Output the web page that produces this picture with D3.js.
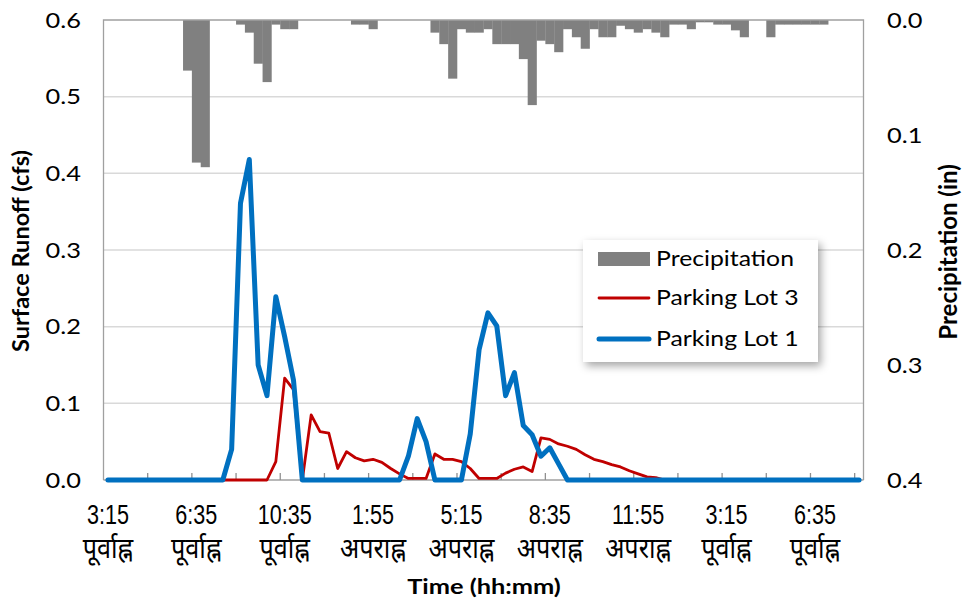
<!DOCTYPE html>
<html>
<head>
<meta charset="utf-8">
<script src="https://cdn.jsdelivr.net/npm/d3@7"></script>
<style>
  html, body { margin: 0; padding: 0; background: #fff; }
  svg { display: block; }
  text { font-family: Lato, "Noto Sans", "DejaVu Sans", sans-serif; fill: #000; }
</style>
</head>
<body>
<svg id="chart" width="962" height="601"></svg>
<script>
// Rainfall (in, per 20-min step) and surface runoff (cfs) for two parking lots
const precipitation = [
  0, 0, 0, 0, 0, 0, 0, 0, 0, 0.044,
  0.124, 0.128, 0, 0, 0, 0.004, 0.011, 0.038, 0.054, 0.004,
  0.008, 0.008, 0, 0, 0, 0, 0, 0, 0.004, 0.004,
  0.008, 0, 0, 0, 0, 0, 0, 0.011, 0.021, 0.051,
  0.008, 0.011, 0.011, 0.008, 0.021, 0.021, 0.021, 0.034, 0.074, 0.018,
  0.021, 0.028, 0.008, 0.015, 0.025, 0.008, 0.015, 0.015, 0.005, 0.008,
  0.011, 0.008, 0.011, 0.015, 0.004, 0.004, 0.008, 0.002, 0.002, 0.004,
  0.004, 0.009, 0.015, 0, 0, 0.015, 0.004, 0.004, 0.004, 0.004,
  0.004, 0.004, 0, 0, 0, 0
];
const parkingLot3 = [
  0, 0, 0, 0, 0, 0, 0, 0, 0, 0,
  0, 0, 0, 0, 0, 0, 0, 0, 0, 0.024,
  0.133, 0.118, 0, 0.085, 0.063, 0.061, 0.015, 0.037, 0.029, 0.025,
  0.027, 0.023, 0.015, 0.008, 0.002, 0.002, 0.002, 0.034, 0.027, 0.027,
  0.024, 0.015, 0.002, 0.002, 0.002, 0.009, 0.014, 0.017, 0.011, 0.055,
  0.053, 0.047, 0.044, 0.040, 0.033, 0.027, 0.024, 0.020, 0.017, 0.012,
  0.008, 0.004, 0.003, 0, 0, 0, 0, 0, 0, 0,
  0, 0, 0, 0, 0, 0, 0, 0, 0, 0,
  0, 0, 0, 0, 0, 0
];
const parkingLot1 = [
  0, 0, 0, 0, 0, 0, 0, 0, 0, 0,
  0, 0, 0, 0, 0.040, 0.361, 0.418, 0.150, 0.110, 0.239,
  0.187, 0.130, 0, 0, 0, 0, 0, 0, 0, 0,
  0, 0, 0, 0, 0.031, 0.080, 0.050, 0, 0, 0,
  0, 0.060, 0.170, 0.218, 0.201, 0.110, 0.140, 0.071, 0.059, 0.031,
  0.042, 0.021, 0, 0, 0, 0, 0, 0, 0, 0,
  0, 0, 0, 0, 0, 0, 0, 0, 0, 0,
  0, 0, 0, 0, 0, 0, 0, 0, 0, 0,
  0, 0, 0, 0, 0, 0
];
// Labels shown on every 10th time step
const tickTimes = ["3:15", "6:35", "10:35", "1:55", "5:15", "8:35", "11:55", "3:15", "6:35"];
const tickPeriods = ["पूर्वाह्न", "पूर्वाह्न", "पूर्वाह्न", "अपराह्न", "अपराह्न", "अपराह्न", "अपराह्न", "पूर्वाह्न", "पूर्वाह्न"];
const runoffTicks = [0, 0.1, 0.2, 0.3, 0.4, 0.5, 0.6];
const precipTicks = [0, 0.1, 0.2, 0.3, 0.4];

const svg = d3.select("#chart");
const plotLeft = 103.5, plotRight = 863.5, plotTop = 20, plotBottom = 480;
const wide = 1.18; // horizontal stretch of the text glyphs

const steps = d3.range(precipitation.length);
const x = d3.scaleBand().domain(steps).range([plotLeft, plotRight]).padding(0);
const cx = i => x(i) + x.bandwidth() / 2;
const yRun = d3.scaleLinear().domain([0, 0.6]).range([plotBottom, plotTop]);
const yPrec = d3.scaleLinear().domain([0, 0.4]).range([plotTop, plotBottom]);

// horizontal gridlines from the runoff axis
svg.append("g")
  .selectAll("line")
  .data(runoffTicks.filter(t => t > 0 && t < 0.6))
  .join("line")
  .attr("x1", plotLeft).attr("x2", plotRight)
  .attr("y1", d => yRun(d)).attr("y2", d => yRun(d))
  .attr("stroke", "#d9d9d9").attr("stroke-width", 1.5);

// precipitation bars hang down from the top edge
svg.append("g")
  .selectAll("rect")
  .data(precipitation.map((v, i) => ({ v, i })).filter(d => d.v > 0))
  .join("rect")
  .attr("x", d => x(d.i))
  .attr("width", x.bandwidth() + 0.3)
  .attr("y", yPrec(0))
  .attr("height", d => yPrec(d.v) - yPrec(0))
  .attr("fill", "#808080");

// plot frame
svg.append("path")
  .attr("d", `M${plotLeft},${plotBottom}V${plotTop}H${plotRight}V${plotBottom}`)
  .attr("fill", "none").attr("stroke", "#a0a0a0").attr("stroke-width", 1.3);
svg.append("line")
  .attr("x1", plotLeft).attr("x2", plotRight).attr("y1", plotBottom).attr("y2", plotBottom)
  .attr("stroke", "#a0a0a0").attr("stroke-width", 1.3);

// x tick marks every 5 steps, on the step boundaries
svg.append("g")
  .selectAll("line")
  .data(d3.range(5, precipitation.length, 5))
  .join("line")
  .attr("x1", d => x(d)).attr("x2", d => x(d))
  .attr("y1", plotBottom).attr("y2", plotBottom - 7)
  .attr("stroke", "#909090").attr("stroke-width", 1.3);

// runoff lines
const line = d3.line().x((d, i) => cx(i)).y(d => yRun(d)).curve(d3.curveLinear);
svg.append("path").datum(parkingLot3)
  .attr("d", line).attr("fill", "none")
  .attr("stroke", "#c00000").attr("stroke-width", 2.8)
  .attr("stroke-linejoin", "round").attr("stroke-linecap", "round");
svg.append("path").datum(parkingLot1)
  .attr("d", line).attr("fill", "none")
  .attr("stroke", "#0070c0").attr("stroke-width", 5)
  .attr("stroke-linejoin", "round").attr("stroke-linecap", "round");

// left axis labels
svg.append("g")
  .selectAll("text")
  .data(runoffTicks)
  .join("text")
  .attr("transform", d => `translate(81,${yRun(d)}) scale(${wide},1)`)
  .attr("dy", "0.35em").attr("text-anchor", "end")
  .attr("font-size", 21.5)
  .text(d => d.toFixed(1));

// right axis labels
svg.append("g")
  .selectAll("text")
  .data(precipTicks)
  .join("text")
  .attr("transform", d => `translate(887,${yPrec(d)}) scale(${wide},1)`)
  .attr("dy", "0.35em").attr("text-anchor", "start")
  .attr("font-size", 21.5)
  .text(d => d.toFixed(1));

// x labels: time over period
const xl = svg.append("g")
  .selectAll("g")
  .data(tickTimes.map((t, k) => ({ t, p: tickPeriods[k], i: k * 10 })))
  .join("g")
  .attr("transform", d => `translate(${cx(d.i)},0)`);
xl.append("text")
  .attr("transform", "translate(0,524) scale(0.8,1)")
  .attr("text-anchor", "middle")
  .attr("font-size", 27)
  .style("font-family", '"Liberation Sans", Arial, sans-serif')
  .text(d => d.t);
xl.append("text")
  .attr("transform", "translate(0,558) scale(0.9,1)")
  .attr("text-anchor", "middle")
  .attr("font-size", 28)
  .style("font-family", '"Liberation Sans", "Noto Sans", sans-serif')
  .text(d => d.p);

// axis titles
svg.append("text")
  .attr("transform", `translate(484,594) scale(${wide},1)`)
  .attr("text-anchor", "middle")
  .attr("font-size", 21.5).attr("font-weight", "bold")
  .text("Time (hh:mm)");
svg.append("text")
  .attr("transform", "translate(29,251) rotate(-90)")
  .attr("text-anchor", "middle")
  .attr("font-size", 23.5).attr("font-weight", "bold")
  .text("Surface Runoff (cfs)");
svg.append("text")
  .attr("transform", "translate(957,252) rotate(-90)")
  .attr("text-anchor", "middle")
  .attr("font-size", 24).attr("font-weight", "bold")
  .text("Precipitation (in)");

// legend
const defs = svg.append("defs");
const f = defs.append("filter").attr("id", "shadow")
  .attr("x", "-10%").attr("y", "-10%").attr("width", "130%").attr("height", "140%");
f.append("feDropShadow").attr("dx", 3).attr("dy", 4).attr("stdDeviation", 4)
  .attr("flood-color", "#000").attr("flood-opacity", 0.35);

const lg = svg.append("g");
lg.append("rect")
  .attr("x", 583).attr("y", 240).attr("width", 235).attr("height", 122)
  .attr("fill", "#fff").attr("filter", "url(#shadow)");
const legendItems = [
  { name: "Precipitation", kind: "bar", color: "#808080" },
  { name: "Parking Lot 3", kind: "line", color: "#c00000", w: 2.8 },
  { name: "Parking Lot 1", kind: "line", color: "#0070c0", w: 5 }
];
const ly = [259, 298, 339];
legendItems.forEach((d, k) => {
  if (d.kind === "bar") {
    lg.append("rect").attr("x", 598).attr("y", ly[k] - 7).attr("width", 52).attr("height", 14)
      .attr("fill", d.color);
  } else {
    lg.append("line").attr("x1", 599).attr("x2", 649).attr("y1", ly[k]).attr("y2", ly[k])
      .attr("stroke", d.color).attr("stroke-width", d.w).attr("stroke-linecap", "round");
  }
  lg.append("text")
    .attr("transform", `translate(656,${ly[k]}) scale(${wide},1)`)
    .attr("dy", "0.35em")
    .attr("font-size", 21).text(d.name);
});
</script>
</body>
</html>
